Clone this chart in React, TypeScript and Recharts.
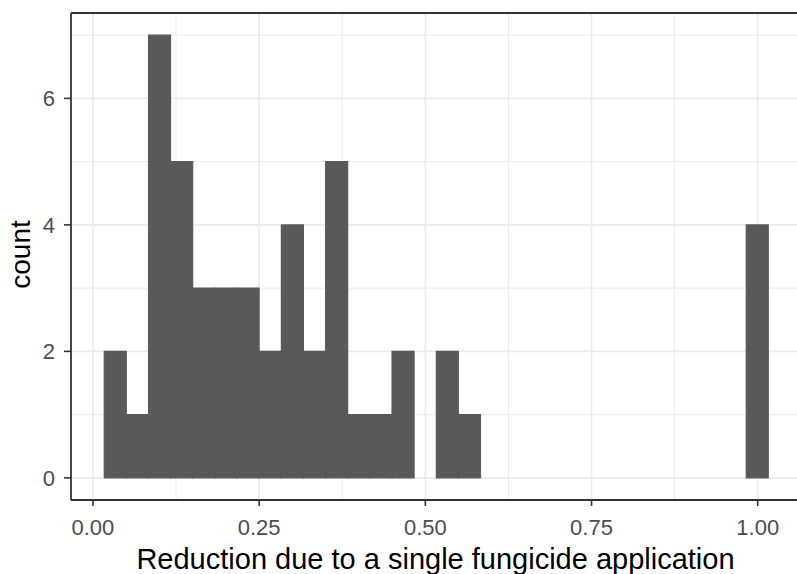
import React from "react";
import {
  ComposedChart,
  Bar,
  Cell,
  XAxis,
  YAxis,
  CartesianGrid,
  ReferenceLine,
} from "recharts";

// Histogram bins (30 bins, centre of each bin) and counts per bin
const binCenters = [
  0.0337, 0.067, 0.1003, 0.1336, 0.1669, 0.2002, 0.2335, 0.2668, 0.3001, 0.3334,
  0.3667, 0.4, 0.4333, 0.4666, 0.4999, 0.5332, 0.5665, 0.5998, 0.6331, 0.6664,
  0.6997, 0.733, 0.7663, 0.7996, 0.8329, 0.8662, 0.8995, 0.9328, 0.9661, 0.9994,
];
const binCounts = [
  2, 1, 7, 5, 3, 3, 3, 2, 4, 2,
  5, 1, 1, 2, 0, 2, 1, 0, 0, 0,
  0, 0, 0, 0, 0, 0, 0, 0, 0, 4,
];

const xTicks = [0, 0.25, 0.5, 0.75, 1];
const xMinorGrid = [0.125, 0.375, 0.625, 0.875];
const yTicks = [0, 2, 4, 6];
const yMinorGrid = [1, 3, 5, 7];

const xDomain: [number, number] = [-0.033, 1.0666];
const yDomain: [number, number] = [-0.35, 7.35];

const data = binCenters.map((x, i) => ({ x, count: binCounts[i] }));

const FONT = '"Liberation Sans", Arial, Helvetica, sans-serif';
const GRID = "#ebebeb";
const INK = "#333333";
const BAR = "#595959";

export default function App() {
  return (
    <div
      style={{
        position: "absolute",
        left: 0,
        top: 0,
        width: 797,
        height: 574,
        overflow: "hidden",
        background: "#fff",
        fontFamily: FONT,
      }}
    >
      <ComposedChart
        width={803}
        height={574}
        data={data}
        barCategoryGap={0}
        barGap={0}
        margin={{ top: 13, right: 1, bottom: 0, left: 0 }}
      >
        <CartesianGrid
          stroke={GRID}
          strokeWidth={1}
          verticalValues={xMinorGrid}
          horizontalValues={yMinorGrid}
        />
        <CartesianGrid
          stroke={GRID}
          strokeWidth={1.6}
          verticalValues={xTicks}
          horizontalValues={yTicks}
        />
        <XAxis
          dataKey="x"
          type="number"
          domain={xDomain}
          allowDataOverflow
          ticks={xTicks}
          tickFormatter={(v: number) => v.toFixed(2)}
          height={74}
          axisLine={{ stroke: INK, strokeWidth: 1.8 }}
          tickSize={6}
          tickMargin={13}
          tickLine={{ stroke: INK, strokeWidth: 1.6 }}
          tick={{ fill: "#4d4d4d", fontSize: 22, fontFamily: FONT }}
          label={({ viewBox }: any) => (
            <text
              x={viewBox.x + viewBox.width / 2 - 1}
              y={viewBox.y + 69}
              textAnchor="middle"
              fill="#000"
              fontSize={29}
              fontFamily={FONT}
            >
              Reduction due to a single fungicide application
            </text>
          )}
        />
        <YAxis
          type="number"
          domain={yDomain}
          allowDataOverflow
          ticks={yTicks}
          width={71}
          axisLine={{ stroke: INK, strokeWidth: 1.8 }}
          tickSize={7}
          tickMargin={9}
          tickLine={{ stroke: INK, strokeWidth: 1.6 }}
          tick={{ fill: "#4d4d4d", fontSize: 22, fontFamily: FONT }}
          label={({ viewBox }: any) => {
            const cx = viewBox.x + 30;
            const cy = viewBox.y + viewBox.height / 2 - 2;
            return (
              <text
                x={cx}
                y={cy}
                transform={`rotate(-90 ${cx} ${cy})`}
                textAnchor="middle"
                fill="#000"
                fontSize={28}
                fontFamily={FONT}
              >
                count
              </text>
            );
          }}
        />
        <Bar dataKey="count" fill={BAR} isAnimationActive={false}>
          {/* stroke only the non-empty bins so neighbouring bars merge without seams */}
          {data.map((d, i) => (
            <Cell
              key={`bin-${i}`}
              fill={BAR}
              stroke={d.count > 0 ? BAR : "none"}
              strokeWidth={1.2}
            />
          ))}
        </Bar>
        {/* top edge of the panel border */}
        <ReferenceLine y={yDomain[1]} stroke={INK} strokeWidth={1.8} />
      </ComposedChart>
    </div>
  );
}
